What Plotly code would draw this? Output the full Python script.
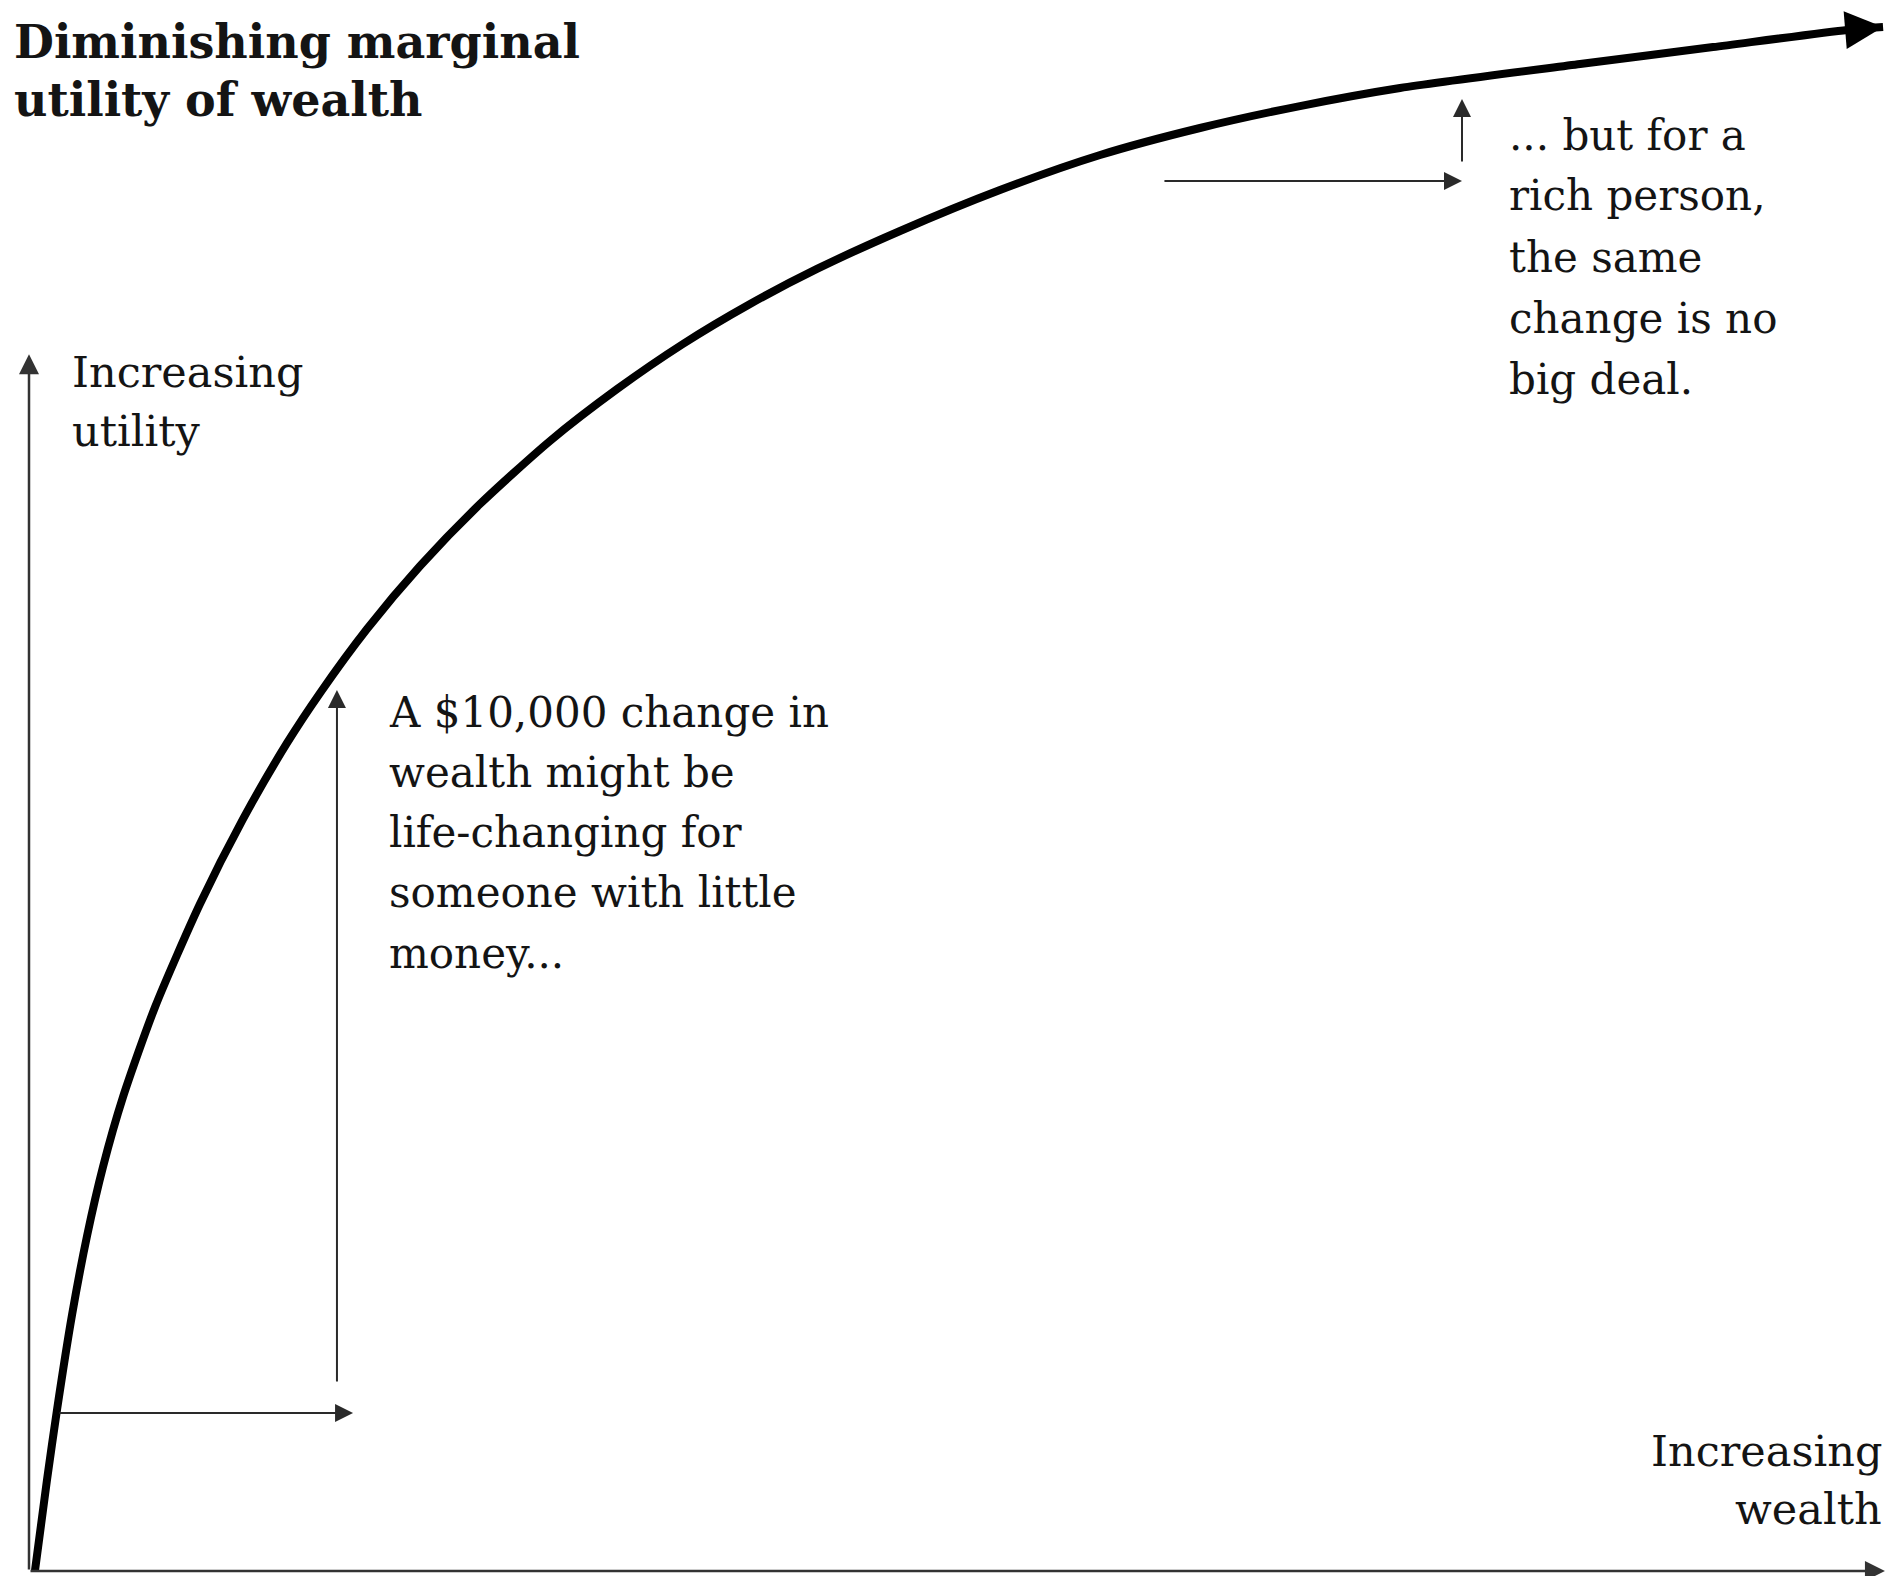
import plotly.graph_objects as go

# ---------------- data (abstract units: wealth 0-100, utility 0-100) ----------------
wealth = [0.32, 0.97, 1.51, 2.32, 3.13, 3.99, 5.07, 6.80, 9.22, 11.54, 13.92, 15.70,
          18.23, 21.09, 24.33, 28.10, 31.72, 35.27, 38.89, 42.50, 46.98, 52.37, 57.77,
          63.16, 68.55, 73.95, 83.66, 90.83, 98.06, 100.0]
utility = [0.0, 5.89, 10.43, 16.58, 21.70, 26.17, 30.70, 36.53, 43.20, 48.70, 53.63, 56.87,
           61.01, 65.09, 69.11, 73.19, 76.55, 79.47, 82.06, 84.33, 86.79, 89.44, 91.71,
           93.46, 94.88, 96.05, 97.60, 98.70, 99.81, 100.0]

# axes extents (wealth axis end, utility axis end)
axis_x_end = 100.1
axis_y_end = 78.8

# "$10,000 change" markers: poor person and rich person
poor_w0, poor_w1, poor_level = 1.56, 17.48, 10.23
poor_up_x, poor_up_y0, poor_up_y1 = 16.61, 12.18, 57.06
rich_w0, rich_w1, rich_level = 61.16, 77.29, 90.03
rich_up_x, rich_up_y0, rich_up_y1 = 77.29, 91.19, 95.34

title_lines = ["Diminishing marginal", "utility of wealth"]
ylabel_lines = ["Increasing", "utility"]
xlabel_lines = ["Increasing", "wealth"]
poor_note = ["A $10,000 change in", "wealth might be", "life-changing for",
             "someone with little", "money..."]
rich_note = ["... but for a", "rich person,", "the same", "change is no", "big deal."]

# ---------------- figure ----------------
W, H = 1894, 1576
X0 = -1.564   # data x at left edge
X1 = 100.59
Y0 = -0.324
Y1 = 101.75

FONT = "DejaVu Serif"
TXT = "#141414"

fig = go.Figure()
fig.add_trace(go.Scatter(x=wealth, y=utility, mode="lines",
                         line=dict(color="black", width=8, shape="spline", smoothing=0.7),
                         hoverinfo="skip", showlegend=False))

ann = []


def arrow(x0, y0, x1, y1, width=2, size=1.8, color="#2a2a2a", head=2):
    ann.append(dict(x=x1, y=y1, ax=x0, ay=y0, xref="x", yref="y", axref="x", ayref="y",
                    text="", showarrow=True, arrowhead=head, arrowsize=size,
                    arrowwidth=width, arrowcolor=color, standoff=0, startstandoff=0))


# curve arrowhead
arrow(wealth[-2], utility[-2], wealth[-1], utility[-1], width=8, size=0.95, color="black")
# axes
arrow(0, 0, 0, axis_y_end, width=2.5, size=1.6, color="#333333")
arrow(0, 0, axis_x_end, 0, width=2.5, size=1.6, color="#333333")
# poor person
arrow(poor_w0, poor_level, poor_w1, poor_level)
arrow(poor_up_x, poor_up_y0, poor_up_x, poor_up_y1)
# rich person
arrow(rich_w0, rich_level, rich_w1, rich_level)
arrow(rich_up_x, rich_up_y0, rich_up_x, rich_up_y1)


def text_lines(lines, px, centers, size, anchor="left", bold=False):
    for s, cy in zip(lines, centers):
        ann.append(dict(x=px / W, y=1 - cy / H, xref="paper", yref="paper",
                        text=f"<b>{s}</b>" if bold else s, showarrow=False,
                        xanchor=anchor, yanchor="middle",
                        font=dict(family=FONT, size=size, color=TXT)))


text_lines(title_lines, 12, [42, 100], 46, bold=True)
text_lines(ylabel_lines, 70, [372, 431], 43)
text_lines(xlabel_lines, 1884, [1451, 1509], 43, anchor="right")
text_lines(poor_note, 387, [712, 772, 832, 892, 953], 42)
text_lines(rich_note, 1507, [135, 196, 257, 318, 379], 42)

fig.update_layout(
    width=W, height=H,
    margin=dict(l=0, r=0, t=0, b=0),
    paper_bgcolor="white", plot_bgcolor="white",
    xaxis=dict(range=[X0, X1], visible=False, fixedrange=True),
    yaxis=dict(range=[Y0, Y1], visible=False, fixedrange=True),
    annotations=ann,
    showlegend=False,
)

fig.write_html("out.html", post_script="document.body.style.margin='0';",
               config={"displayModeBar": False})
